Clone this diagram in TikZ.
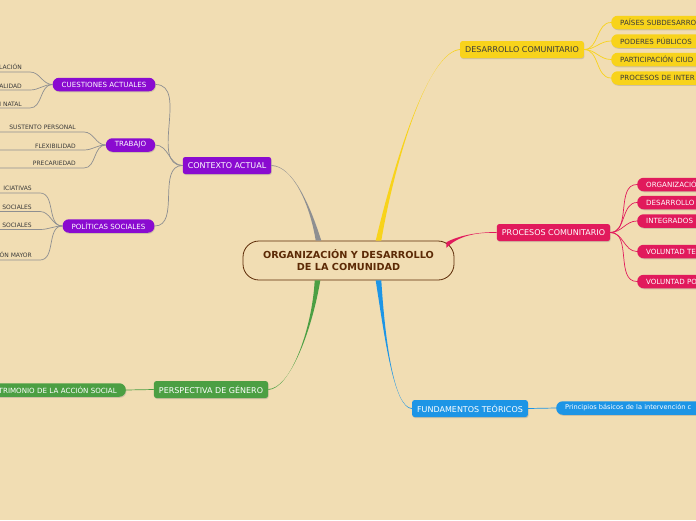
\documentclass[tikz,border=0pt]{standalone}
\usepackage{fontspec}
\setmainfont{DejaVu Sans}
\usetikzlibrary{positioning,shadows}
\definecolor{MapBg}{HTML}{F1DDB3}
\definecolor{RootBrown}{HTML}{5C2A06}
\definecolor{CtxPurple}{HTML}{8A0BD0}
\definecolor{CtxGray}{HTML}{8E8F91}
\definecolor{DevYellow}{HTML}{F8D31B}
\definecolor{ProcPink}{HTML}{E11A5C}
\definecolor{FundBlue}{HTML}{1D95E6}
\definecolor{GenGreen}{HTML}{4C9F43}
\definecolor{TwigText}{HTML}{3A3A3A}
% tapered main branch: colour, root point, two controls, end, shift axis
\newcommand\limb[6]{\fill[#1] ([#6shift=-2.8pt]#2) .. controls #3 and #4 .. ([yshift=-0.4pt]#5)
  -- ([yshift=0.4pt]#5) .. controls #4 and #3 .. ([#6shift=2.8pt]#2) -- cycle;}

\begin{document}
\begin{tikzpicture}[x=1pt,y=-1pt,
    root/.style={draw=RootBrown,line width=0.8pt,rounded corners=16pt,fill=MapBg,
                 minimum width=211pt,minimum height=39pt,align=center,text=RootBrown,
                 font=\bfseries\fontsize{9.7}{12}\selectfont},
    topic/.style={rounded corners=2.5pt,minimum height=17pt,inner xsep=5pt,
                  font=\fontsize{8}{9}\selectfont,
                  drop shadow={opacity=.3,shadow xshift=.6pt,shadow yshift=-1pt}},
    sub/.style={rounded corners=6.5pt,minimum height=13.5pt,inner xsep=9pt,inner ysep=0pt,
                font=\fontsize{7.1}{8}\selectfont,
                drop shadow={opacity=.3,shadow xshift=.6pt,shadow yshift=-1pt}},
    outR/.style={sub,anchor=west,text width=200pt,align=left},
    outL/.style={sub,anchor=east,text width=200pt,align=right},
    tip/.style={anchor=south east,text width=80pt,align=right,inner xsep=8pt,inner ysep=1.8pt,
                font=\fontsize{6}{7}\selectfont,text=TwigText},
    twig/.style={line width=0.7pt}]
  \useasboundingbox (0,0) rectangle (696,520);
  \fill[MapBg] (0,0) rectangle (696,520);
  \clip (0,0) rectangle (696,520);

  \node[root] (root) at (348.5,260.5) {ORGANIZACIÓN Y DESARROLLO\\DE LA COMUNIDAD};

  % main topics
  \node[topic,fill=CtxPurple,text=white] (ctx)  at (227,165.5) {CONTEXTO ACTUAL};
  \node[topic,fill=DevYellow,text=TwigText] (dev) at (522,49.5) {DESARROLLO COMUNITARIO};
  \node[topic,fill=ProcPink,text=white] (proc) at (553.5,232.5) {PROCESOS COMUNITARIO};
  \node[topic,fill=FundBlue,text=white] (fund) at (470,408.5) {FUNDAMENTOS TEÓRICOS};
  \node[topic,fill=GenGreen,text=white] (gen)  at (211,389.5) {PERSPECTIVA DE GÉNERO};

  \coordinate (gRoot) at ([xshift=-30pt]root.north);
  \coordinate (yRoot) at ([xshift=30pt]root.north);
  \coordinate (pRoot) at ([xshift=-8pt,yshift=15.5pt]root.east);
  \coordinate (bRoot) at ([xshift=30pt]root.south);
  \coordinate (vRoot) at ([xshift=-31pt]root.south);
  \limb{CtxGray}{gRoot}{(310,205)}{(293,166)}{ctx.east}{x}
  \limb{DevYellow}{yRoot}{(395,160)}{(428,52)}{dev.west}{x}
  \limb{ProcPink}{pRoot}{(458,236)}{(476,232)}{proc.west}{y}
  \limb{FundBlue}{bRoot}{(385,340)}{(394,408)}{fund.west}{x}
  \limb{GenGreen}{vRoot}{(312,330)}{(290,389)}{gen.east}{x}

  % contexto actual
  \node[sub,fill=CtxPurple,text=white] (cu) at (104,84.5) {CUESTIONES ACTUALES};
  \node[sub,fill=CtxPurple,text=white] (tr) at (130.5,145) {TRABAJO};
  \node[sub,fill=CtxPurple,text=white] (po) at (108.5,226) {POLÍTICAS SOCIALES};
  \foreach \s in {cu,tr,po}
    \draw[twig,CtxGray] (ctx.west) to[out=180,in=0] (\s.east);

  \node[tip] (cu1) at (30,72)  {LACIÓN};
  \node[tip] (cu2) at (30,90)  {ALIDAD};
  \node[tip] (cu3) at (30,108) {N NATAL};
  \node[tip] (tr1) at (84,132) {SUSTENTO PERSONAL};
  \node[tip] (tr2) at (84,150) {FLEXIBILIDAD};
  \node[tip] (tr3) at (84,168) {PRECARIEDAD};
  \node[tip] (po1) at (40,193)   {ICIATIVAS};
  \node[tip] (po2) at (40,211.5) {SOCIALES};
  \node[tip] (po3) at (40,229.5) {SOCIALES};
  \node[tip] (po4) at (40,260)   {ÓN MAYOR};
  \foreach \p/\t in {cu/cu1,cu/cu2,cu/cu3,tr/tr1,tr/tr2,tr/tr3,po/po1,po/po2,po/po3,po/po4}
    \draw[twig,CtxGray] (\p.west) to[out=180,in=0] (\t.south east) -- (\t.south west);

  % desarrollo comunitario
  \node[outR,fill=DevYellow,text=TwigText] (dev1) at (611,22.5) {PAÍSES SUBDESARRO};
  \node[outR,fill=DevYellow,text=TwigText] (dev2) at (611,41)   {PODERES PÚBLICOS};
  \node[outR,fill=DevYellow,text=TwigText] (dev3) at (611,59.5) {PARTICIPACIÓN CIUD};
  \node[outR,fill=DevYellow,text=TwigText] (dev4) at (611,78)   {PROCESOS DE INTER};
  \foreach \t in {dev1,dev2,dev3,dev4}
    \draw[twig,DevYellow] (dev.east) to[out=0,in=180] (\t.west);

  % procesos comunitario
  \node[outR,fill=ProcPink,text=white] (pr1) at (637,184.5) {ORGANIZACIÓ};
  \node[outR,fill=ProcPink,text=white] (pr2) at (637,202.5) {DESARROLLO};
  \node[outR,fill=ProcPink,text=white] (pr3) at (637,221)   {INTEGRADOS};
  \node[outR,fill=ProcPink,text=white] (pr4) at (637,251.5) {VOLUNTAD TE};
  \node[outR,fill=ProcPink,text=white] (pr5) at (637,281.5) {VOLUNTAD PO};
  \foreach \t in {pr1,pr2,pr3,pr4,pr5}
    \draw[twig,ProcPink] (proc.east) to[out=0,in=180] (\t.west);

  % fundamentos and genero
  \node[outR,fill=FundBlue,text=white,font=\fontsize{6.6}{8}\selectfont] (fu1) at (556,408)
    {Principios básicos de la intervención c};
  \draw[twig,FundBlue] (fund.east) -- (fu1.west);
  \node[outL,fill=GenGreen,text=white] (ge1) at (126,390) {TRIMONIO DE LA ACCIÓN SOCIAL};
  \draw[twig,GenGreen] (gen.west) -- (ge1.east);
\end{tikzpicture}
\end{document}
